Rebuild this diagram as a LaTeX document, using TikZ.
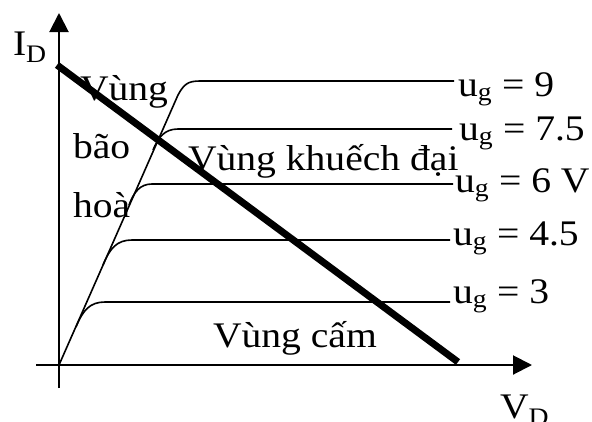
\documentclass[tikz,border=0pt]{standalone}
\usepackage{fontspec}
\setmainfont{Liberation Serif}[FakeStretch=1.1]
\usetikzlibrary{arrows.meta}
\begin{document}
\begin{tikzpicture}[x=1pt,y=-1pt,
  lbl/.style={anchor=base west,inner sep=0pt,outer sep=0pt,font=\fontsize{36}{40}\selectfont},
  axis/.style={line width=2pt,-{Triangle[length=19pt,width=19pt]}},
  curve/.style={line width=1.6pt,line join=round},
  load/.style={line width=7pt}]
\useasboundingbox (0,0) rectangle (592,421);
\fill[white] (0,0) rectangle (592,421);
% axes
\coordinate (O) at (59,365);
\coordinate (xs) at (36,365);
\coordinate (xe) at (532,365);
\coordinate (ys) at (59,388);
\coordinate (ye) at (59,13);
\draw[axis] (xs) -- (xe);
\draw[axis] (ys) -- (ye);
% labels
\node[lbl] (id) at (13,55) {I\textsubscript{D}};
\node[lbl] (vd) at (500,418) {V\textsubscript{D}};
\node[lbl] (vung1) at (80,100) {Vùng};
\node[lbl] (bao) at (73,158) {bão};
\node[lbl] (hoa) at (73,217) {hoà};
\node[lbl] (kd) at (188,170) {Vùng khuếch đại};
\node[lbl] (cam) at (213,347) {Vùng cấm};
\node[lbl] (u9) at (458,96) {u\textsubscript{g} = 9};
\node[lbl] (u75) at (459,140) {u\textsubscript{g} = 7.5};
\node[lbl] (u6) at (455,192) {u\textsubscript{g} = 6 V};
\node[lbl] (u45) at (453,245) {u\textsubscript{g} = 4.5};
\node[lbl] (u3) at (453,303) {u\textsubscript{g} = 3};
% characteristic curves
\draw[curve] (O) -- (178,95) .. controls (184,84) and (188,81) .. (200,81) -- (454,81);
\draw[curve] (153,150) .. controls (158,138) and (164,129) .. (178,129) -- (452,129);
\draw[curve] (129,205) .. controls (134,192) and (140,184) .. (152,184) -- (453,184);
\draw[curve] (103,265) .. controls (110,248) and (117,240) .. (132,240) -- (450,240);
\draw[curve] (76,327) .. controls (83,310) and (90,302) .. (105,302) -- (450,302);
% load line
\coordinate (la) at (57,65);
\coordinate (lb) at (458,362);
\draw[load] (la) -- (lb);
\end{tikzpicture}
\end{document}
